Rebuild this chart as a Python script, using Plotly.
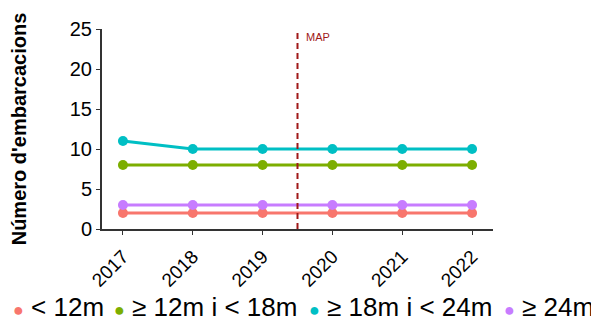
import plotly.graph_objects as go

years = [2017, 2018, 2019, 2020, 2021, 2022]
series_names = ["< 12m", "≥ 12m i < 18m", "≥ 18m i < 24m", "≥ 24m"]
v_lt12 = [2, 2, 2, 2, 2, 2]
v_12_18 = [8, 8, 8, 8, 8, 8]
v_18_24 = [11, 10, 10, 10, 10, 10]
v_ge24 = [3, 3, 3, 3, 3, 3]
colors = ["#F8766D", "#7CAE00", "#00BFC4", "#C77CFF"]
map_year = 2019.5
y_ticks = [0, 5, 10, 15, 20, 25]

OFF = 8  # page body margin
W, H = 599 - OFF, 327 - OFF
L, T = 102 - OFF, 29 - OFF
R, B = W - (493 - OFF), H - (229 - OFF)
pw, ph = W - L - R, H - T - B

fig = go.Figure()
for name, vals, col in zip(series_names, [v_lt12, v_12_18, v_18_24, v_ge24], colors):
    fig.add_trace(go.Scatter(x=years, y=vals, name=name, mode="lines+markers",
                             line=dict(color=col, width=3),
                             marker=dict(color=col, size=10), showlegend=False))

fig.add_shape(type="line", x0=map_year, x1=map_year, y0=0, y1=25, xref="x", yref="y",
              line=dict(color="#A01818", width=2, dash="6px,4px"))
fig.add_annotation(x=map_year, y=24.0, xref="x", yref="y", text="MAP", showarrow=False,
                   xanchor="left", xshift=6, font=dict(size=11, color="#A01818"))

# legend drawn as text entries (ggplot style: dot + label)
legend_px = [11, 112, 307, 502]
for name, col, px in zip(series_names, colors, legend_px):
    fig.add_annotation(
        x=(px - 102) / pw, y=(229 - 307) / ph, xref="paper", yref="paper",
        xanchor="left", yanchor="middle", showarrow=False,
        text=f'<span style="color:{col};font-size:18px">●</span> {name}',
        font=dict(size=26, color="black"))

fig.update_layout(
    width=W, height=H,
    margin=dict(l=L, r=R, t=T, b=B, autoexpand=False),
    plot_bgcolor="white", paper_bgcolor="white",
    font=dict(family="Liberation Sans, Arial, sans-serif", color="black"),
    showlegend=False,
)
fig.update_xaxes(range=[2016.7, 2022.3], tickvals=years, ticktext=[str(y) for y in years],
                 tickangle=-45, tickfont=dict(size=19), showgrid=False, zeroline=False,
                 showline=True, linecolor="#333333", linewidth=2, automargin=False,
                 ticks="outside", ticklen=4, tickcolor="#333333", ticklabelstandoff=3)
fig.update_yaxes(range=[0, 25], tickvals=y_ticks, tickfont=dict(size=20), showgrid=False,
                 zeroline=False, showline=True, linecolor="#333333", linewidth=2,
                 ticks="outside", ticklen=4, tickcolor="#333333", automargin=False,
                 title=dict(text="<b>Número d'embarcacions</b>", font=dict(size=20), standoff=42))

fig.write_html("out.html")
